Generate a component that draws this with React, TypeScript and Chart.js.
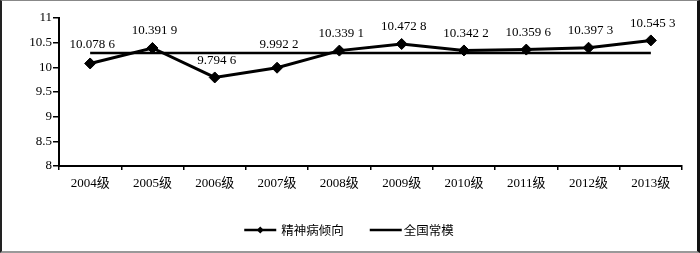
import React, { useEffect, useRef } from 'react';
import { Chart, registerables } from 'chart.js';

Chart.register(...registerables);

const categories = ['2004级', '2005级', '2006级', '2007级', '2008级', '2009级', '2010级', '2011级', '2012级', '2013级'];
const tendencyLabel = '精神病倾向';
const tendencyValues = [10.0786, 10.3919, 9.7946, 9.9922, 10.3391, 10.4728, 10.3422, 10.3596, 10.3973, 10.5453];
const normLabel = '全国常模';
const normValues = [10.29, 10.29, 10.29, 10.29, 10.29, 10.29, 10.29, 10.29, 10.29, 10.29];
const yMin = 8;
const yMax = 11;
const yStep = 0.5;

const SERIF = "'Liberation Serif', 'Times New Roman', 'Noto Sans CJK SC', serif";
const CJK = "'Noto Sans CJK SC', 'Liberation Serif', serif";

function fmt(v: number): string {
  const s = v.toFixed(4);
  return s.slice(0, s.length - 1) + ' ' + s.slice(s.length - 1);
}

const dataLabelPlugin = {
  id: 'dataLabels',
  afterDatasetsDraw(chart: any) {
    const ctx = chart.ctx;
    const meta = chart.getDatasetMeta(0);
    const normMeta = chart.getDatasetMeta(1);
    const ds = chart.data.datasets[0];
    ctx.save();
    ctx.font = '13px ' + SERIF;
    ctx.fillStyle = '#000';
    ctx.textAlign = 'center';
    ctx.textBaseline = 'middle';
    meta.data.forEach((pt: any, i: number) => {
      let ly = pt.y - 17;
      const ny = normMeta.data[i] ? normMeta.data[i].y : -1000;
      if (ly > ny - 8 && ly < ny + 6) ly = ny - 8;
      ctx.fillText(fmt(ds.data[i]), pt.x + 2, ly);
    });
    ctx.restore();
  },
};

const legendPlugin = {
  id: 'customLegend',
  afterDraw(chart: any) {
    const ctx = chart.ctx;
    const y = 229;
    ctx.save();
    ctx.font = '12.5px ' + CJK;
    const ds = chart.data.datasets;
    const lineW = 32;
    const w0 = ctx.measureText(ds[0].label).width;
    const w1 = ctx.measureText(ds[1].label).width;
    const total = lineW + 5 + w0 + 26 + lineW + 2 + w1;
    let x = 347 - total / 2;
    ctx.strokeStyle = '#000';
    ctx.fillStyle = '#000';
    ctx.lineWidth = 2.5;
    ctx.beginPath();
    ctx.moveTo(x, y);
    ctx.lineTo(x + lineW, y);
    ctx.stroke();
    const cx = x + lineW / 2;
    ctx.beginPath();
    ctx.moveTo(cx, y - 3.5);
    ctx.lineTo(cx + 3.5, y);
    ctx.lineTo(cx, y + 3.5);
    ctx.lineTo(cx - 3.5, y);
    ctx.closePath();
    ctx.fill();
    x += lineW + 5;
    ctx.textBaseline = 'middle';
    ctx.textAlign = 'left';
    ctx.fillText(ds[0].label, x, y);
    x += w0 + 26;
    ctx.beginPath();
    ctx.moveTo(x, y);
    ctx.lineTo(x + lineW, y);
    ctx.stroke();
    x += lineW + 2;
    ctx.fillText(ds[1].label, x, y);
    ctx.restore();
  },
};

export default function App() {
  const ref = useRef<HTMLCanvasElement | null>(null);

  useEffect(() => {
    document.body.style.margin = '0';
    const canvas = ref.current;
    if (!canvas) return;
    const chart = new Chart(canvas, {
      type: 'line',
      data: {
        labels: categories,
        datasets: [
          {
            label: tendencyLabel,
            data: tendencyValues,
            borderColor: '#000',
            backgroundColor: '#000',
            borderWidth: 3,
            pointStyle: 'rectRot',
            pointRadius: 5.5,
            pointBorderWidth: 1,
            pointBackgroundColor: '#000',
            pointBorderColor: '#000',
            tension: 0,
            clip: false,
            order: 0,
          },
          {
            label: normLabel,
            data: normValues,
            borderColor: '#000',
            backgroundColor: '#000',
            borderWidth: 2.5,
            pointRadius: 0,
            tension: 0,
            clip: false,
            order: 1,
          },
        ],
      },
      options: {
        responsive: false,
        animation: false,
        devicePixelRatio: 1,
        layout: { padding: { left: 0, top: 17, right: 15, bottom: 55 } },
        plugins: {
          legend: { display: false },
          tooltip: { enabled: false },
        },
        scales: {
          x: {
            offset: true,
            grid: {
              offset: true,
              display: true,
              drawOnChartArea: false,
              drawTicks: true,
              tickLength: 4,
              color: '#000',
              lineWidth: 1.5,
            },
            border: { display: true, color: '#000', width: 2 },
            ticks: {
              color: '#000',
              font: { family: SERIF, size: 13 },
              padding: 6,
              maxRotation: 0,
              autoSkip: false,
            },
            afterFit: (scale: any) => {
              scale.height = 30;
            },
          },
          y: {
            min: yMin,
            max: yMax,
            grid: {
              display: true,
              drawOnChartArea: false,
              drawTicks: true,
              tickLength: 6,
              color: '#000',
              lineWidth: 1.5,
            },
            border: { display: true, color: '#000', width: 2 },
            ticks: {
              stepSize: yStep,
              color: '#000',
              font: { family: SERIF, size: 13 },
              padding: 1,
              callback: (v: any) => String(Number(v)),
            },
            afterFit: (scale: any) => {
              scale.width = 57;
            },
          },
        },
      },
      plugins: [dataLabelPlugin, legendPlugin],
    });
    return () => chart.destroy();
  }, []);

  return (
    <div
      style={{
        width: 700,
        height: 253,
        boxSizing: 'border-box',
        borderLeft: '2px solid #222',
        borderTop: '1px solid #888',
        borderRight: '3px solid #111',
        borderBottom: '2px solid #999',
        background: '#fff',
        overflow: 'hidden',
      }}
    >
      <canvas ref={ref} width={695} height={250} style={{ width: 695, height: 250, display: 'block' }} />
    </div>
  );
}
